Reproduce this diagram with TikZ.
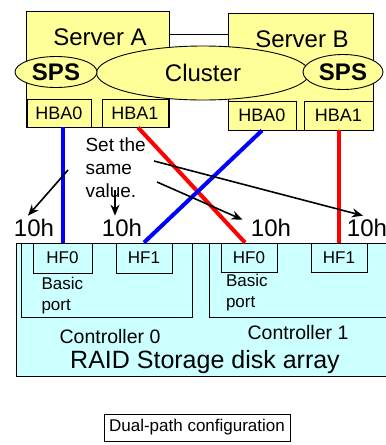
\documentclass[tikz,border=0pt]{standalone}
\usepackage{fontspec}
\setmainfont{Liberation Sans}
\usetikzlibrary{shapes.geometric,arrows.meta}
\definecolor{srvyellow}{RGB}{255,255,153}
\definecolor{raidcyan}{RGB}{204,255,255}
\definecolor{pathblue}{RGB}{0,0,255}
\definecolor{pathred}{RGB}{255,0,0}
\newcommand{\fsz}[1]{\fontsize{#1}{#1}\selectfont}
\begin{document}
\begin{tikzpicture}[x=1pt, y=-1pt,
  box/.style={draw, line width=0.9pt, inner sep=0pt},
  srvbox/.style={box, fill=srvyellow},
  raidbox/.style={box, fill=raidcyan},
  oval/.style={ellipse, draw, line width=0.9pt, fill=srvyellow, inner sep=0pt},
  hba/.style={srvbox, font=\fsz{18}},
  hf/.style={raidbox, font=\fsz{17}},
  cable/.style={line width=4pt},
  note/.style={-{Stealth[length=11pt,width=9pt]}, line width=1.6pt},
  tenh/.style={font=\fsz{24}}]
\useasboundingbox (0,0) rectangle (386,445);
\clip (0,0) rectangle (386,445);

\node[srvbox, minimum width=143pt, minimum height=116pt] (srvA) at (97.5,69) {};
\node[srvbox, minimum width=145pt, minimum height=117pt] (srvB) at (300.5,71.5) {};
\draw[line width=0.9pt] (srvA.east |- 0,34) -- (srvB.west |- 0,34);
\node[font=\fsz{24}] (srvAname) at (100,37) {Server A};
\node[font=\fsz{24}] (srvBname) at (302,39) {Server B};

\node[hba, minimum width=64pt, minimum height=28pt] (hbaA0) at (59,113) {HBA0};
\node[hba, minimum width=66pt, minimum height=28pt] (hbaA1) at (135,113) {HBA1};
\node[hba, minimum width=68pt, minimum height=29pt] (hbaB0) at (262,115.5) {HBA0};
\node[hba, minimum width=69pt, minimum height=29pt] (hbaB1) at (338.5,115.5) {HBA1};

\node[oval, minimum width=213pt, minimum height=54pt, font=\fsz{24}] (cluster) at (203,73) {Cluster};
\node[oval, minimum width=82pt, minimum height=31pt, font=\bfseries\fsz{24}] (spsA) at (56,72) {SPS};
\node[oval, minimum width=80pt, minimum height=35pt, font=\bfseries\fsz{24}] (spsB) at (343,72) {SPS};

\node[raidbox, minimum width=404pt, minimum height=133pt] (raid) at (218,309.5) {};
\node[raidbox, minimum width=171pt, minimum height=74pt] (ctrl0) at (106.5,280) {};
\node[raidbox, minimum width=211pt, minimum height=74pt] (ctrl1) at (314.5,280) {};
\node[hf, minimum width=59pt, minimum height=30pt] (hfA0) at (62.5,258) {HF0};
\node[hf, minimum width=56pt, minimum height=30pt] (hfA1) at (144,258) {HF1};
\node[hf, minimum width=56pt, minimum height=29pt] (hfB0) at (249,257.5) {HF0};
\node[hf, minimum width=56pt, minimum height=29pt] (hfB1) at (339,257.5) {HF1};
\node[font=\fsz{17}, align=left, anchor=west] (basic0) at (38,295.5) {Basic\\[4pt]port};
\node[font=\fsz{17}, align=left, anchor=west] (basic1) at (222.5,293) {Basic\\[4pt]port};
\node[font=\fsz{19.5}] (ctrl0name) at (110,337) {Controller 0};
\node[font=\fsz{19.5}] (ctrl1name) at (298,333) {Controller 1};
\node[font=\fsz{25}] (raidname) at (205,362) {RAID Storage disk array};

\draw[cable, pathblue] (hfA0.north |- hbaA0.south) -- (hfA0.north);
\draw[cable, pathred] ([xshift=3pt]hbaA1.south) -- ([xshift=-4pt]hfB0.north);
\draw[cable, pathblue] (hbaB0.south) -- (hfA1.north);
\draw[cable, pathred] (hbaB1.south) -- (hbaB1.south |- hfB1.north);

\node[tenh] (ten1) at (34,228) {10h};
\node[tenh] (ten2) at (122,228) {10h};
\node[tenh] (ten3) at (271,228) {10h};
\node[tenh] (ten4) at (367,228) {10h};

\node[font=\fsz{19}, align=left, anchor=west] (setval) at (82,168) {Set the\\[4pt]same\\[4pt]value.};
\coordinate (from1) at (68,170);
\coordinate (from2) at (115,190);
\coordinate (from3) at (157,182);
\coordinate (from4) at (154,161);
\draw[note] (from1) -- ([xshift=-6pt]ten1.north);
\draw[note] (from2) -- ([xshift=-7pt]ten2.north);
\draw[note] (from3) -- ([xshift=-5pt,yshift=-4pt]ten3.north west);
\draw[note] (from4) -- ([xshift=-4pt]ten4.north);

\node[box, minimum width=186pt, minimum height=27pt, font=\fsz{17}] (caption) at (197,427.5) {Dual-path configuration};
\end{tikzpicture}
\end{document}
